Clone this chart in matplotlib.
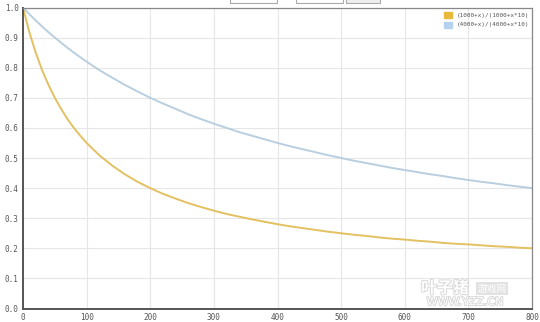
import matplotlib.pyplot as plt
import matplotlib.patheffects as pe
from matplotlib.patches import Rectangle

# values
x_vals = [0, 10, 20, 30, 40, 50, 60, 70, 80, 90, 100, 120, 140, 160, 180, 200,
          220, 240, 260, 280, 300, 320, 340, 360, 380, 400, 420, 440, 460, 480,
          500, 520, 540, 560, 580, 600, 620, 640, 660, 680, 700, 720, 740, 760,
          780, 800]
yellow_vals = [1.000, 0.918, 0.850, 0.792, 0.743, 0.700, 0.663, 0.629, 0.600,
               0.574, 0.550, 0.509, 0.475, 0.446, 0.421, 0.400, 0.381, 0.365,
               0.350, 0.337, 0.325, 0.314, 0.305, 0.296, 0.288, 0.280, 0.273,
               0.267, 0.261, 0.255, 0.250, 0.245, 0.241, 0.236, 0.232, 0.229,
               0.225, 0.222, 0.218, 0.215, 0.213, 0.210, 0.207, 0.205, 0.202,
               0.200]
blue_vals = [1.000, 0.978, 0.957, 0.937, 0.918, 0.900, 0.883, 0.866, 0.850,
             0.835, 0.820, 0.792, 0.767, 0.743, 0.721, 0.700, 0.681, 0.663,
             0.645, 0.629, 0.614, 0.600, 0.586, 0.574, 0.562, 0.550, 0.539,
             0.529, 0.519, 0.509, 0.500, 0.491, 0.483, 0.475, 0.467, 0.460,
             0.453, 0.446, 0.440, 0.433, 0.427, 0.421, 0.416, 0.410, 0.405,
             0.400]
labels = ['(1000+x)/(1000+x*10)', '(4000+x)/(4000+x*10)']
x_ticks = [0, 100, 200, 300, 400, 500, 600, 700, 800]
y_ticks = [0.0, 0.1, 0.2, 0.3, 0.4, 0.5, 0.6, 0.7, 0.8, 0.9, 1.0]

fig = plt.figure(figsize=(5.4, 3.22), dpi=100)
ax = fig.add_axes([23 / 540, 1 - 308.5 / 322, 509 / 540, 301 / 322])

ax.plot(x_vals, yellow_vals, color='#e3c060', lw=1.4, solid_capstyle='round')
ax.plot(x_vals, blue_vals, color='#b9cfdf', lw=1.4, solid_capstyle='round')

ax.set_xlim(0, 800)
ax.set_ylim(0, 1.0)
ax.set_xticks(x_ticks)
ax.set_yticks(y_ticks)
ax.set_xticklabels([str(t) for t in x_ticks])
ax.set_yticklabels(['%.1f' % t for t in y_ticks])
ax.tick_params(length=0, labelsize=5.5, colors='#555555', pad=3,
               labelfontfamily='DejaVu Sans Mono')
ax.grid(True, color='#e6e6e6', lw=0.8)
ax.set_axisbelow(True)
for side in ['left', 'bottom']:
    ax.spines[side].set_color('#555555')
    ax.spines[side].set_linewidth(1.4)
for side in ['top', 'right']:
    ax.spines[side].set_color('#888888')
    ax.spines[side].set_linewidth(0.9)

# legend
swatch_cols = ['#e8b93b', '#b4d2ee']
for i, (lab, c) in enumerate(zip(labels, swatch_cols)):
    yy = 0.975 - i * 0.033
    ax.add_patch(Rectangle((0.827, yy - 0.009), 0.016, 0.018, transform=ax.transAxes,
                           color=c, clip_on=False))
    ax.text(0.853, yy, lab, transform=ax.transAxes, fontsize=4.3, color='#555555',
            va='center', ha='left', family='DejaVu Sans Mono')

# watermark
shadow = [pe.withStroke(linewidth=1.3, foreground='#d6d6d6')]
ax.text(0.782, 0.068, '叶子猪', transform=ax.transAxes, fontsize=11.5, color='white',
        family=['Noto Sans CJK SC', 'DejaVu Sans'], weight='bold', va='center',
        ha='left', path_effects=shadow)
ax.text(0.893, 0.066, '游戏网', transform=ax.transAxes, fontsize=7, color='white',
        family=['Noto Sans CJK SC', 'DejaVu Sans'], va='center', ha='left',
        bbox=dict(facecolor='#e2e2e2', edgecolor='none', pad=1.0))
ax.text(0.793, 0.021, 'WWW.YZZ.CN', transform=ax.transAxes, fontsize=8, color='white',
        va='center', ha='left', path_effects=shadow)

# cut-off form controls at the top edge
for x0, w, fc in [(230, 47, 'white'), (296, 47, 'white'), (346, 34, '#eeeeee')]:
    fig.patches.append(Rectangle((x0 / 540, 1 - 3 / 322), w / 540, 5 / 322,
                                 transform=fig.transFigure, facecolor=fc,
                                 edgecolor='#aaaaaa', lw=0.8))

fig.savefig('out.png', dpi=100)
